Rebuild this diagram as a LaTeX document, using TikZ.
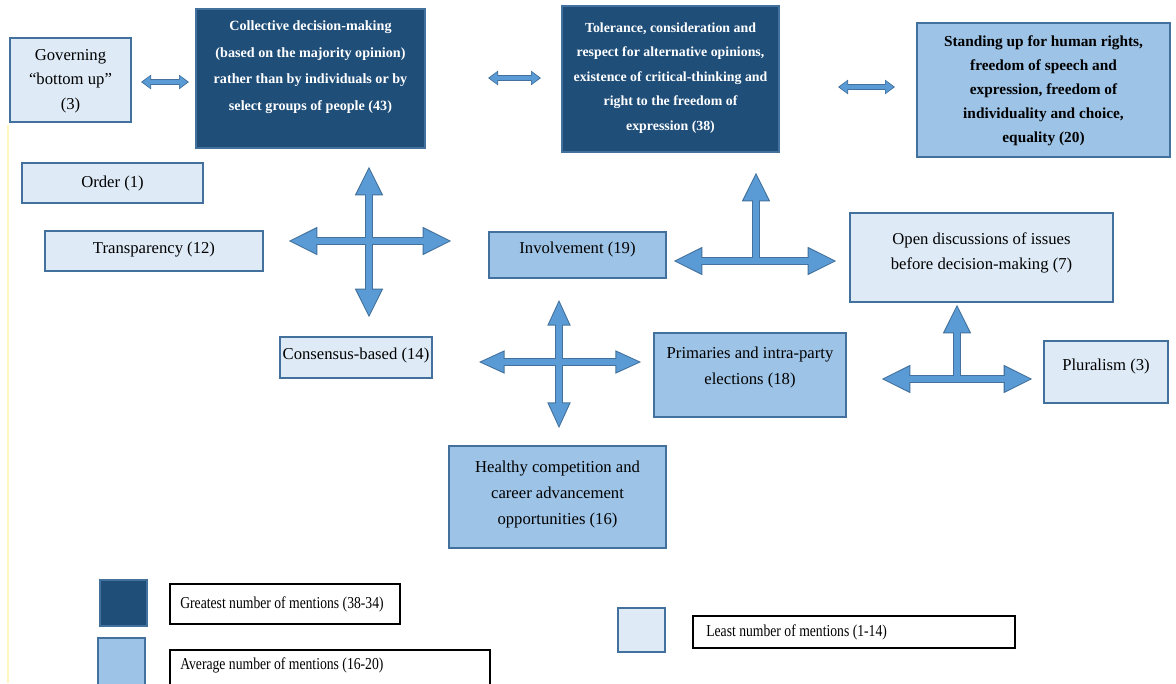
\documentclass[tikz,border=0pt]{standalone}
\usepackage{fontspec}
\setmainfont{Liberation Serif}
\usetikzlibrary{arrows.meta,calc}
\definecolor{darkb}{HTML}{1F4E79}
\definecolor{midb}{HTML}{9DC3E6}
\definecolor{lightb}{HTML}{DEEBF7}
\definecolor{edgeb}{HTML}{41719C}
\definecolor{arrowb}{HTML}{5B9BD5}
\definecolor{paleyel}{HTML}{FFF6C0}
\tikzset{
 box/.style={rectangle, draw=edgeb, line width=0.8pt, inner sep=0pt, outer sep=0pt},
 darkbox/.style={box, fill=darkb},
 midbox/.style={box, fill=midb},
 lightbox/.style={box, fill=lightb},
 keybox/.style={rectangle, draw=black, line width=0.9pt, fill=white, inner sep=0pt, outer sep=0pt},
 txt/.style={align=center, inner sep=0pt, font=\fontsize{12.5}{19}\selectfont},
 wtxt/.style={align=center, inner sep=0pt, text=white, font=\bfseries\fontsize{10.6}{20}\selectfont},
 btxt/.style={align=center, inner sep=0pt, font=\bfseries\fontsize{11.5}{18}\selectfont},
 keytxt/.style={anchor=west, inner sep=0pt, font=\fontsize{12.5}{14}\selectfont},
 % outlined block arrows: outer pass (edge) then inner pass (fill)
 bigout/.style={draw=edgeb, line width=5.6pt, {Triangle[width=19.5pt,length=22pt]}-{Triangle[width=19.5pt,length=22pt]}},
 bigin/.style={draw=arrowb, line width=4.1pt, shorten <=1.9pt, shorten >=1.9pt, {Triangle[width=17.4pt,length=19.3pt]}-{Triangle[width=17.4pt,length=19.3pt]}},
 upout/.style={draw=edgeb, line width=5.6pt, -{Triangle[width=19.5pt,length=22pt]}},
 upin/.style={draw=arrowb, line width=4.1pt, shorten >=1.9pt, -{Triangle[width=17.4pt,length=19.3pt]}},
 medout/.style={draw=edgeb, line width=5.4pt, {Triangle[width=16pt,length=20pt]}-{Triangle[width=16pt,length=20pt]}},
 medin/.style={draw=arrowb, line width=3.9pt, shorten <=2pt, shorten >=2pt, {Triangle[width=14pt,length=17.3pt]}-{Triangle[width=14pt,length=17.3pt]}},
 smallout/.style={draw=edgeb, line width=5pt, {Triangle[width=10.5pt,length=7.5pt]}-{Triangle[width=10.5pt,length=7.5pt]}},
 smallin/.style={draw=arrowb, line width=3.6pt, shorten <=1.3pt, shorten >=1.3pt, {Triangle[width=8.8pt,length=5.8pt]}-{Triangle[width=8.8pt,length=5.8pt]}},
}
\begin{document}
\begin{tikzpicture}[x=0.75pt,y=-0.75pt]
\useasboundingbox (0,0) rectangle (1176,683);
\clip (0,0) rectangle (1176,683);
\fill[white] (0,0) rectangle (1176,683);
\draw[paleyel, line width=2pt] (8,125) -- (8,683);

% boxes
\node[lightbox, minimum width=90.75pt, minimum height=63pt] (gov) at (70.5,80) {};
\node[txt, font=\fontsize{12.5}{18.4}\selectfont] (govt) at (70.5,81) {Governing\\“bottom up”\\(3)};
\node[darkbox, minimum width=171.75pt, minimum height=104.25pt] (col) at (310.5,78.5) {};
\node[wtxt] (colt) at (310.5,67) {Collective decision-making\\(based on the majority opinion)\\rather than by individuals or by\\select groups of people (43)};
\node[darkbox, minimum width=162.75pt, minimum height=109.5pt] (tol) at (670.5,79) {};
\node[wtxt, font=\bfseries\fontsize{10.4}{18.4}\selectfont] (tolt) at (670.5,78) {Tolerance, consideration and\\respect for alternative opinions,\\existence of critical-thinking and\\right to the freedom of\\expression (38)};
\node[midbox, minimum width=189.75pt, minimum height=100.5pt] (std) at (1043.5,90) {};
\node[btxt] (stdt) at (1043.5,91) {Standing up for human rights,\\freedom of speech and\\expression, freedom of\\individuality and choice,\\equality (20)};
\node[lightbox, minimum width=135.75pt, minimum height=30pt] (ord) at (112.5,183) {};
\node[txt] (ordt) at (112.5,183) {Order (1)};
\node[lightbox, minimum width=163.5pt, minimum height=30pt] (tra) at (154,251) {};
\node[txt] (trat) at (154,250) {Transparency (12)};
\node[midbox, minimum width=132.75pt, minimum height=34.5pt] (inv) at (577.5,255) {};
\node[txt] (invt) at (577.5,249) {Involvement (19)};
\node[lightbox, minimum width=197.25pt, minimum height=66.75pt] (open) at (981.5,257.5) {};
\node[txt, font=\fontsize{12.5}{18.5}\selectfont] (opent) at (981.5,253) {Open discussions of issues\\before decision-making (7)};
\node[lightbox, minimum width=114pt, minimum height=30.75pt] (cons) at (356,357.5) {};
\node[txt] (const) at (356,355) {Consensus-based (14)};
\node[midbox, minimum width=144pt, minimum height=63pt] (prim) at (750,375) {};
\node[txt, font=\fontsize{12.5}{19.5}\selectfont] (primt) at (750,367) {Primaries and intra-party\\elections (18)};
\node[lightbox, minimum width=93pt, minimum height=46.5pt] (plur) at (1106,372) {};
\node[txt] (plurt) at (1106,366) {Pluralism (3)};
\node[midbox, minimum width=162.75pt, minimum height=76.5pt] (hea) at (557.5,497) {};
\node[txt, font=\fontsize{12.5}{19.5}\selectfont] (heat) at (557.5,494) {Healthy competition and\\career advancement\\opportunities (16)};

% small double arrows
\draw[smallout] ($(gov.east)+(10,2)$) -- ($(col.west)+(-7,3.5)$);
\draw[smallin]  ($(gov.east)+(10,2)$) -- ($(col.west)+(-7,3.5)$);
\draw[smallout] ($(col.east)+(63,-0.5)$) -- ($(tol.west)+(-21,-1)$);
\draw[smallin]  ($(col.east)+(63,-0.5)$) -- ($(tol.west)+(-21,-1)$);
\draw[smallout] ($(tol.east)+(59,8)$) -- ($(std.west)+(-22,-3)$);
\draw[smallin]  ($(tol.east)+(59,8)$) -- ($(std.west)+(-22,-3)$);

% cross 1
\coordinate (x1w) at (288,241); \coordinate (x1e) at (452,241);
\coordinate (x1n) at (369,166); \coordinate (x1s) at (369,318);
\draw[bigout] (x1w) -- (x1e);
\draw[bigout] (x1n) -- (x1s);
\draw[bigin] (x1w) -- (x1e);
\draw[bigin] (x1n) -- (x1s);
% cross 2
\coordinate (x2w) at (478,362); \coordinate (x2e) at (642,362);
\coordinate (x2n) at (559,299); \coordinate (x2s) at (559,429);
\draw[medout] (x2w) -- (x2e);
\draw[medout] (x2n) -- (x2s);
\draw[medin] (x2w) -- (x2e);
\draw[medin] (x2n) -- (x2s);
% T arrow 3
\coordinate (t3w) at (673,261); \coordinate (t3e) at (837,261);
\coordinate (t3c) at (756,261); \coordinate (t3n) at (756,172);
\draw[bigout] (t3w) -- (t3e);
\draw[upout] (t3c) -- (t3n);
\draw[bigin] (t3w) -- (t3e);
\draw[upin] (t3c) -- (t3n);
% T arrow 4
\coordinate (t4w) at (881,379); \coordinate (t4e) at (1033,379);
\coordinate (t4c) at (957,379); \coordinate (t4n) at (957,304);
\draw[bigout] (t4w) -- (t4e);
\draw[upout] (t4c) -- (t4n);
\draw[bigin] (t4w) -- (t4e);
\draw[upin] (t4c) -- (t4n);

% legend
\node[darkbox, minimum width=35.25pt, minimum height=34.5pt] (k1) at (123.5,603) {};
\node[keybox, minimum width=172.5pt, minimum height=30pt] (k1l) at (285,604) {};
\node[keytxt] (k1t) at (180,604) {\scalebox{0.82}[1]{Greatest number of mentions (38-34)}};
\node[midbox, minimum width=35.25pt, minimum height=36pt] (k2) at (121.5,662) {};
\node[keybox, minimum width=240pt, minimum height=28.5pt] (k2l) at (330,669) {};
\node[keytxt] (k2t) at (180,665) {\scalebox{0.82}[1]{Average number of mentions (16-20)}};
\node[lightbox, minimum width=35.25pt, minimum height=33pt] (k3) at (641.5,630) {};
\node[keybox, minimum width=241.5pt, minimum height=24pt] (k3l) at (854,632) {};
\node[keytxt] (k3t) at (706,632) {\scalebox{0.82}[1]{Least number of mentions (1-14)}};
\end{tikzpicture}
\end{document}
